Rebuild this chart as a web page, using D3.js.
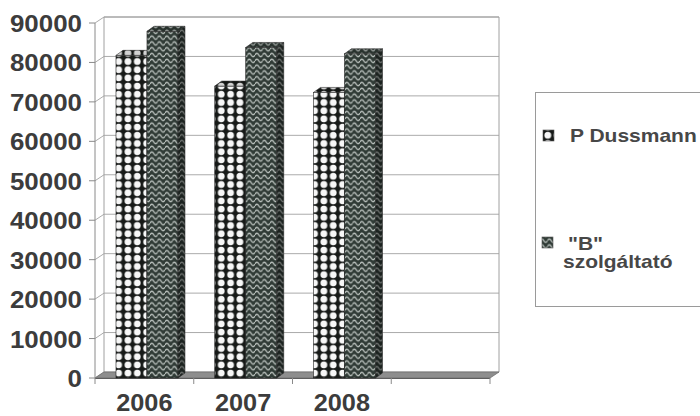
<!DOCTYPE html>
<html>
<head>
<meta charset="utf-8">
<script src="https://cdn.jsdelivr.net/npm/d3@7"></script>
<style>
  html, body { margin: 0; padding: 0; background: #fff; }
  svg { display: block; }
  text { font-family: "Liberation Sans", Arial, sans-serif; font-weight: bold; }
</style>
</head>
<body>
<svg id="chart" width="700" height="416"></svg>
<script>
// Category slots on the floor (the fourth slot is an empty row)
const categories = ['2006', '2007', '2008', ''];
const seriesNames = ['P Dussmann', '"B" szolgáltató'];
const dussmannValues = [81800, 74000, 72400];
const bSzolgaltatoValues = [87900, 83800, 82200];
const yTickValues = [0, 10000, 20000, 30000, 40000, 50000, 60000, 70000, 80000, 90000];

const svg = d3.select('#chart');

// 3D box geometry: wall depth and bar depth offsets
const wallDX = 9, wallDY = -6;
const barDX = 7, barDY = -5;

const x = d3.scaleBand().domain(categories).range([95, 490]);
const inner = d3.scaleBand().domain([0, 1]).range([0, x.bandwidth()])
  .paddingInner(0).paddingOuter(0.593).align(0.571);
const y = d3.scaleLinear().domain([0, 90000]).range([378, 23]);

const xLeft = x.range()[0], xRight = x.range()[1];
const yBase = y(0), yTop = y(90000);

// ---- patterns ----
const defs = svg.append('defs');
const dotW = 9.33, dotH = 8.2;
const dots = defs.append('pattern').attr('id', 'dotFill')
  .attr('patternUnits', 'userSpaceOnUse').attr('width', dotW).attr('height', dotH)
  .attr('x', 2).attr('y', 0);
dots.append('rect').attr('width', dotW).attr('height', dotH).attr('fill', '#171a18');
dots.append('circle').attr('cx', dotW / 2).attr('cy', dotH / 2).attr('r', 3.4).attr('fill', '#f7f7f7');

const waveW = 7.5, waveH = 5.8;
const waves = defs.append('pattern').attr('id', 'waveFill')
  .attr('patternUnits', 'userSpaceOnUse').attr('width', waveW).attr('height', waveH);
waves.append('rect').attr('width', waveW).attr('height', waveH).attr('fill', '#303b36');
waves.append('path')
  .attr('d', `M0,${waveH / 2} Q${waveW / 4},${waveH / 2 - 3.2} ${waveW / 2},${waveH / 2} T${waveW},${waveH / 2}`)
  .attr('fill', 'none').attr('stroke', '#bcc3bf').attr('stroke-width', 1.4);

const fills = ['url(#dotFill)', 'url(#waveFill)'];
const seriesValues = [dussmannValues, bSzolgaltatoValues];

// ---- walls and floor ----
const gridColor = '#ababab';
const walls = svg.append('g');

// gridlines: side wall diagonal, then along back wall
walls.selectAll('path.grid').data(yTickValues).join('path')
  .attr('class', 'grid')
  .attr('d', v => `M${xLeft},${y(v)} L${xLeft + wallDX},${y(v) + wallDY} L${xRight + wallDX},${y(v) + wallDY}`)
  .attr('fill', 'none').attr('stroke', gridColor).attr('stroke-width', 1);

// back wall outline
walls.append('path')
  .attr('d', `M${xLeft + wallDX},${yBase + wallDY} L${xLeft + wallDX},${yTop + wallDY} L${xRight + wallDX},${yTop + wallDY} L${xRight + wallDX},${yBase + wallDY}`)
  .attr('fill', 'none').attr('stroke', '#a0a0a0').attr('stroke-width', 1);

// floor
walls.append('path')
  .attr('d', `M${xLeft},${yBase} L${xLeft + wallDX},${yBase + wallDY} L${xRight + wallDX},${yBase + wallDY} L${xRight},${yBase} Z`)
  .attr('fill', '#8e8e8e').attr('stroke', '#707070').attr('stroke-width', 0.8);
walls.append('line')
  .attr('x1', xLeft).attr('x2', xRight).attr('y1', yBase + 0.5).attr('y2', yBase + 0.5)
  .attr('stroke', '#5e5e5e').attr('stroke-width', 1.2);

// ---- bars ----
const barsG = svg.append('g');
categories.forEach((cat, ci) => {
  seriesValues.forEach((vals, si) => {
    const v = vals[ci];
    if (v == null) return;
    const bx = x(cat) + inner(si);
    const bw = inner.bandwidth();
    const by = y(v);
    const b0 = y(0);
    const g = barsG.append('g');
    // front face
    g.append('rect').attr('x', bx).attr('y', by).attr('width', bw).attr('height', b0 - by)
      .attr('fill', fills[si]).attr('stroke', '#222').attr('stroke-width', 0.6);
    // top face
    const top = `M${bx},${by} L${bx + barDX},${by + barDY} L${bx + bw + barDX},${by + barDY} L${bx + bw},${by} Z`;
    g.append('path').attr('d', top).attr('fill', fills[si]);
    g.append('path').attr('d', top).attr('fill', 'rgba(0,0,0,0.15)')
      .attr('stroke', '#333').attr('stroke-width', 0.6);
    // right side face
    const side = `M${bx + bw},${by} L${bx + bw + barDX},${by + barDY} L${bx + bw + barDX},${b0 + barDY} L${bx + bw},${b0} Z`;
    g.append('path').attr('d', side).attr('fill', fills[si]);
    g.append('path').attr('d', side).attr('fill', 'rgba(0,0,0,0.4)')
      .attr('stroke', '#333').attr('stroke-width', 0.6);
  });
});

// ---- value axis ----
const axisG = svg.append('g');
axisG.append('line')
  .attr('x1', xLeft).attr('x2', xLeft).attr('y1', yTop).attr('y2', yBase)
  .attr('stroke', '#8a8a8a').attr('stroke-width', 1);
axisG.selectAll('line.ytick').data(yTickValues).join('line')
  .attr('class', 'ytick')
  .attr('x1', xLeft - 6).attr('x2', xLeft).attr('y1', d => y(d)).attr('y2', d => y(d))
  .attr('stroke', '#8a8a8a').attr('stroke-width', 1);
axisG.selectAll('text.ylab').data(yTickValues).join('text')
  .attr('class', 'ylab')
  .attr('transform', d => `translate(82,${y(d) + 9}) scale(1.08,1)`)
  .attr('text-anchor', 'end')
  .attr('font-size', 24)
  .attr('fill', '#3c3c3c')
  .text(d => d);

// ---- category axis ----
const boundaries = categories.map(c => x(c)).concat([xRight]);
axisG.selectAll('line.xtick').data(boundaries).join('line')
  .attr('class', 'xtick')
  .attr('x1', d => d).attr('x2', d => d).attr('y1', yBase).attr('y2', yBase + 6)
  .attr('stroke', '#8a8a8a').attr('stroke-width', 1);
axisG.selectAll('text.xlab').data(categories.filter(c => c !== '')).join('text')
  .attr('class', 'xlab')
  .attr('transform', d => `translate(${x(d) + x.bandwidth() / 2},411) scale(1.1,1)`)
  .attr('text-anchor', 'middle')
  .attr('font-size', 23)
  .attr('fill', '#3c3c3c')
  .text(d => d);

// ---- legend ----
const legend = svg.append('g');
legend.append('rect').attr('x', 535.5).attr('y', 92.5).attr('width', 200).attr('height', 214)
  .attr('fill', '#fff').attr('stroke', '#9a9a9a').attr('stroke-width', 1);

const legendItems = [
  { fill: fills[0], sx: 543, sy: 130, lines: ['P Dussmann'], lx: [570], ly: [142] },
  { fill: fills[1], sx: 542, sy: 237, lines: ['"B"', 'szolgáltató'], lx: [568, 563], ly: [250, 268] }
];
legendItems.forEach((it, i) => {
  legend.append('rect').attr('x', it.sx).attr('y', it.sy).attr('width', 11).attr('height', 11)
    .attr('fill', it.fill).attr('stroke', '#555').attr('stroke-width', 0.6);
  it.lines.forEach((t, k) => {
    legend.append('text')
      .attr('transform', `translate(${it.lx[k]},${it.ly[k]}) scale(1.2,1)`)
      .attr('font-size', 17.5)
      .attr('fill', '#474747')
      .text(t);
  });
});
</script>
</body>
</html>
